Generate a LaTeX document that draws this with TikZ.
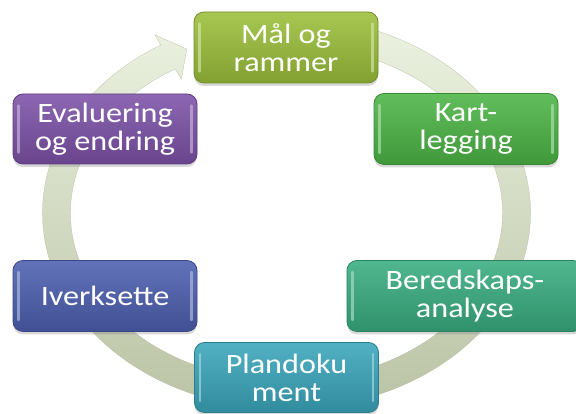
\documentclass[tikz,border=0pt]{standalone}
\usepackage{fontspec}
\setmainfont{Carlito}[FakeStretch=1.15]
\usetikzlibrary{shadows,calc}

\definecolor{malc}{HTML}{9BBF3A}
\definecolor{kartc}{HTML}{4CB545}
\definecolor{beredc}{HTML}{38AD80}
\definecolor{planc}{HTML}{3AA6BB}
\definecolor{iverkc}{HTML}{4D5FB0}
\definecolor{evalc}{HTML}{7D52A8}
\definecolor{ringtop}{HTML}{EBF2E0}
\definecolor{ringbot}{HTML}{B9C1A3}

\tikzset{
  stage/.style={rectangle, rounded corners=10pt, minimum width=184pt, minimum height=71pt,
    inner sep=0pt, draw=#1!75!black, line width=0.8pt,
    top color=#1!88!white, bottom color=#1!84!black,
    drop shadow={shadow xshift=0pt, shadow yshift=-3pt, opacity=0.3},
    text=white, align=center, font=\fontsize{28}{28}\selectfont},
  gloss/.style={draw=#1!45!white, line width=2.6pt, line cap=round, opacity=0.7},
  ring/.style={top color=ringtop, bottom color=ringbot, draw=ringbot!95!black, line width=0.2pt}
}

\begin{document}
\begin{tikzpicture}[x=1pt,y=1pt]
\useasboundingbox (0,0) rectangle (576,414);
\clip (0,0) rectangle (576,414);

% circular arrow behind the stages
\coordinate (c) at (286.5,201);
\path[ring]
  ($(c)+(80:244pt and 196pt)$)
  arc[start angle=80, end angle=-239, x radius=244pt, y radius=196pt]
  -- ($(c)+(-239:256pt and 208pt)$)
  -- ($(c)+(-244.3:230pt and 182pt)$)
  -- ($(c)+(-239:204pt and 156pt)$)
  -- ($(c)+(-239:216pt and 168pt)$)
  arc[start angle=-239, end angle=80, x radius=216pt, y radius=168pt]
  -- cycle;

% stages
\node[stage=malc]   (mal)   at (286,366.5) {Mål og\\rammer};
\node[stage=kartc]  (kart)  at (466,285)   {Kart-\\legging};
\node[stage=beredc, minimum width=236pt] (bered) at (465,118) {Beredskaps-\\analyse};
\node[stage=planc, minimum height=70pt]  (plan)  at (286.5,36.5) {Plandoku\\ment};
\node[stage=iverkc] (iverk) at (105,118)   {Iverksette};
\node[stage=evalc, minimum height=70pt]  (eval)  at (105,285)   {Evaluering\\og endring};

% glossy edge highlights
\foreach \n/\col in {mal/malc, kart/kartc, bered/beredc, plan/planc, iverk/iverkc, eval/evalc}{
  \draw[gloss=\col] ([xshift=6pt,yshift=12pt]\n.south west) -- ([xshift=6pt,yshift=-12pt]\n.north west);
  \draw[gloss=\col] ([xshift=-6pt,yshift=12pt]\n.south east) -- ([xshift=-6pt,yshift=-12pt]\n.north east);
}
\end{tikzpicture}
\end{document}
